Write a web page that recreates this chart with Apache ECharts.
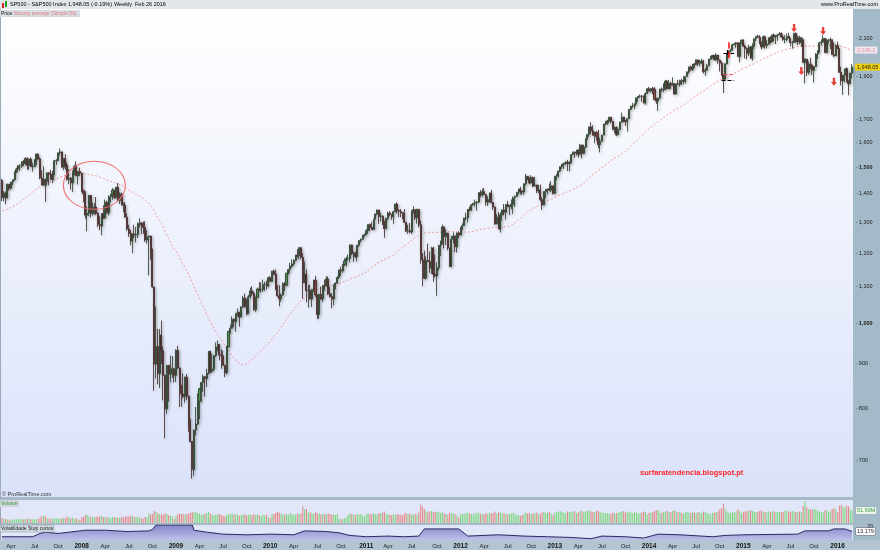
<!DOCTYPE html>
<html><head><meta charset="utf-8">
<script src="https://cdn.jsdelivr.net/npm/echarts@6/dist/echarts.min.js"></script>
<style>html,body{margin:0;padding:0;background:#fff}#c{width:880px;height:550px}</style>
</head><body><div id="c"></div><script>
// ---- DATA: weekly S&P 500 candles [open, high, low, close], week ending Fridays from 2007-03-02 ----
const firstWeek = '2007-03-02';
const w2007 = [[1451,1456,1374,1387],[1387,1410,1374,1403],[1403,1409,1363,1387],[1387,1438,1383,1436],[1436,1437,1411,1421],
[1421,1445,1416,1444],[1444,1453,1432,1453],[1453,1484,1449,1484],[1484,1499,1477,1494],[1494,1510,1482,1506],
[1506,1513,1487,1506],[1506,1523,1498,1523],[1523,1530,1505,1516],[1516,1540,1510,1536],[1536,1540,1490,1508],
[1508,1534,1492,1533],[1533,1540,1502,1503],[1503,1518,1484,1503],[1503,1532,1503,1530],[1530,1555,1510,1553],
[1553,1556,1528,1534],[1534,1540,1455,1459],[1459,1489,1433,1433],[1433,1504,1430,1454],[1454,1456,1371,1446],
[1446,1480,1430,1479],[1479,1481,1432,1474],[1474,1490,1452,1454],[1454,1486,1440,1484],[1484,1530,1470,1526],
[1526,1533,1510,1527],[1527,1560,1525,1558],[1558,1576,1547,1562],[1562,1563,1500,1501],[1501,1536,1490,1535],
[1535,1552,1492,1510],[1510,1520,1450,1454],[1454,1493,1436,1459],[1459,1462,1416,1441],[1441,1489,1407,1481],
[1481,1510,1470,1505],[1505,1524,1467,1468],[1468,1486,1435,1484],[1484,1499,1468,1478]];
const w2008 = [[1478,1478,1406,1412],[1412,1416,1370,1401],[1401,1410,1313,1325],[1325,1355,1270,1331],
[1331,1396,1322,1395],[1395,1396,1317,1331],[1331,1368,1324,1350],[1350,1367,1327,1353],[1353,1389,1326,1331],
[1331,1335,1284,1293],[1293,1321,1274,1288],[1288,1331,1257,1330],[1330,1359,1312,1315],
[1315,1380,1313,1370],[1370,1376,1330,1333],[1333,1395,1324,1390],[1390,1400,1370,1398],
[1398,1422,1379,1414],[1414,1416,1382,1388],[1388,1426,1382,1425],[1425,1440,1373,1376],[1376,1406,1364,1400],
[1400,1405,1359,1361],[1361,1369,1335,1360],[1360,1371,1317,1318],[1318,1331,1272,1278],
[1278,1292,1252,1263],[1263,1274,1225,1239],[1239,1263,1200,1261],[1261,1292,1248,1258],
[1258,1285,1234,1260],[1260,1300,1248,1296],[1296,1314,1283,1298],[1298,1300,1261,1292],[1292,1303,1262,1283],
[1283,1304,1236,1242],[1242,1274,1230,1252],[1252,1256,1133,1255],[1255,1255,1179,1213],
[1213,1214,1097,1099],[1099,1099,839,899],[899,1044,866,941],[941,985,853,877],[877,985,845,969],
[969,1007,899,931],[931,941,818,873],[873,875,741,800],[800,897,790,896],
[896,897,815,876],[876,919,857,880],[880,918,867,888],[888,889,857,873]];
const w2009 = [[873,934,858,932],[932,943,888,890],[890,891,804,850],[850,852,805,832],[832,877,822,826],
[826,870,813,869],[869,876,818,827],[827,828,754,770],[770,780,733,735],
[735,736,667,683],[683,758,672,757],[757,804,747,769],[769,833,767,816],
[816,845,779,843],[843,857,814,857],[857,875,836,870],[870,871,826,866],
[866,888,847,878],[878,930,875,929],[929,931,878,883],[883,924,879,887],[887,920,882,919],
[919,951,916,940],[940,956,930,946],[946,946,908,921],[921,934,888,919],
[919,931,895,896],[896,898,869,879],[879,943,875,940],[940,980,940,979],[979,996,973,987],
[987,1018,986,1010],[1010,1013,990,1004],[1004,1027,978,1026],[1026,1039,1018,1029],
[1029,1030,991,1016],[1016,1045,1016,1043],[1043,1074,1041,1068],[1068,1080,1041,1044],
[1044,1065,1020,1025],[1025,1076,1025,1071],[1071,1097,1066,1088],[1088,1101,1074,1080],[1080,1086,1033,1036],
[1036,1072,1030,1069],[1069,1097,1069,1093],[1093,1113,1086,1091],[1091,1112,1084,1091],
[1091,1120,1085,1106],[1106,1114,1088,1106],[1106,1117,1092,1102],[1102,1128,1099,1126],[1126,1130,1115,1115]];
const w2010 = [[1115,1146,1115,1145],[1145,1150,1133,1136],[1136,1150,1091,1092],[1092,1104,1071,1074],
[1074,1104,1045,1066],[1066,1081,1057,1076],[1076,1112,1075,1109],[1109,1113,1088,1104],
[1104,1139,1102,1139],[1139,1151,1134,1150],[1150,1170,1140,1160],[1160,1181,1155,1167],
[1167,1181,1161,1178],[1178,1195,1175,1194],[1194,1213,1187,1192],[1192,1218,1181,1217],[1217,1220,1181,1187],
[1187,1200,1066,1111],[1111,1174,1111,1136],[1136,1150,1056,1088],[1088,1104,1041,1089],
[1089,1106,1064,1065],[1065,1093,1043,1092],[1092,1120,1086,1118],[1118,1131,1071,1077],
[1077,1077,1011,1023],[1023,1079,1011,1078],[1078,1100,1063,1065],[1065,1104,1057,1103],[1103,1120,1088,1102],
[1102,1130,1101,1122],[1122,1129,1076,1079],[1079,1100,1069,1072],[1072,1082,1040,1065],
[1065,1105,1047,1105],[1105,1112,1092,1110],[1110,1131,1108,1126],[1126,1149,1122,1149],
[1149,1158,1131,1146],[1146,1167,1140,1165],[1165,1184,1160,1176],[1176,1189,1159,1183],[1183,1196,1177,1183],
[1183,1227,1171,1226],[1226,1227,1194,1199],[1199,1205,1173,1200],[1200,1205,1185,1189],
[1189,1226,1174,1225],[1225,1241,1220,1240],[1240,1247,1234,1244],[1244,1259,1243,1257],[1257,1263,1252,1258]];
const w2011 = [[1258,1278,1258,1272],[1272,1293,1262,1293],[1293,1296,1271,1283],[1283,1302,1275,1276],
[1276,1311,1276,1311],[1311,1330,1311,1329],[1329,1344,1324,1343],[1343,1343,1295,1320],
[1320,1333,1303,1321],[1321,1325,1291,1304],[1304,1305,1249,1279],[1279,1315,1279,1314],
[1314,1337,1307,1332],[1332,1339,1322,1328],[1328,1329,1309,1320],[1320,1339,1295,1337],[1337,1364,1335,1364],
[1364,1370,1330,1340],[1340,1346,1318,1338],[1338,1346,1318,1333],[1333,1335,1311,1331],
[1331,1346,1300,1300],[1300,1302,1268,1271],[1271,1292,1262,1272],[1272,1298,1265,1268],
[1268,1341,1262,1340],[1340,1356,1330,1344],[1344,1344,1308,1316],[1316,1347,1296,1345],[1345,1346,1283,1292],
[1292,1307,1168,1199],[1199,1199,1101,1179],[1179,1208,1122,1124],[1124,1190,1121,1177],
[1177,1230,1172,1174],[1174,1205,1140,1154],[1154,1220,1137,1216],[1216,1220,1114,1136],[1136,1195,1127,1131],
[1131,1171,1074,1155],[1155,1225,1147,1225],[1225,1239,1191,1238],[1238,1293,1228,1285],
[1285,1285,1215,1253],[1253,1277,1226,1264],[1264,1266,1209,1216],[1216,1216,1158,1159],
[1159,1255,1159,1244],[1244,1267,1231,1255],[1255,1256,1203,1220],[1220,1265,1202,1265],[1265,1270,1248,1258]];
const w2012 = [[1258,1285,1258,1278],[1278,1297,1275,1289],[1289,1316,1289,1315],[1315,1333,1307,1316],
[1316,1346,1300,1345],[1345,1355,1337,1343],[1343,1363,1340,1361],[1361,1368,1357,1366],
[1366,1379,1355,1370],[1370,1374,1340,1371],[1371,1406,1367,1404],[1404,1414,1388,1397],[1397,1419,1391,1408],
[1408,1422,1395,1398],[1398,1398,1358,1370],[1370,1391,1357,1379],[1379,1406,1370,1403],
[1403,1415,1367,1369],[1369,1371,1343,1353],[1353,1354,1292,1295],[1295,1328,1295,1318],
[1318,1335,1277,1278],[1278,1335,1266,1326],[1326,1344,1306,1343],[1343,1364,1324,1335],[1335,1363,1309,1362],
[1362,1375,1353,1355],[1355,1358,1325,1357],[1357,1380,1345,1363],[1363,1391,1329,1386],
[1386,1395,1354,1391],[1391,1406,1391,1406],[1406,1419,1398,1418],[1418,1426,1398,1411],[1411,1413,1397,1407],
[1407,1438,1397,1438],[1438,1475,1430,1466],[1466,1467,1451,1460],[1460,1460,1436,1441],
[1441,1470,1438,1461],[1461,1465,1425,1429],[1429,1464,1429,1433],[1433,1434,1403,1412],
[1412,1434,1404,1414],[1414,1434,1373,1380],[1380,1388,1343,1360],[1360,1409,1360,1409],[1409,1419,1385,1416],
[1416,1420,1398,1418],[1418,1439,1411,1414],[1414,1448,1407,1430],[1430,1430,1398,1402]];
const w2013 = [[1402,1467,1402,1466],[1466,1473,1451,1472],[1472,1486,1461,1486],[1486,1503,1482,1503],
[1503,1514,1494,1513],[1513,1518,1495,1518],[1518,1525,1509,1520],[1520,1530,1486,1516],
[1516,1525,1485,1518],[1518,1552,1514,1551],[1551,1564,1548,1561],[1561,1563,1538,1557],[1557,1570,1547,1569],
[1569,1573,1539,1553],[1553,1594,1551,1589],[1589,1593,1536,1555],[1555,1592,1555,1582],
[1582,1618,1577,1614],[1614,1635,1614,1634],[1634,1668,1624,1667],[1667,1687,1636,1650],[1650,1674,1630,1631],
[1631,1646,1598,1643],[1643,1649,1608,1627],[1627,1654,1577,1592],[1592,1620,1560,1606],
[1606,1632,1605,1632],[1632,1680,1632,1680],[1680,1693,1675,1692],[1692,1698,1676,1692],
[1692,1710,1682,1710],[1710,1710,1684,1691],[1691,1693,1656,1656],[1656,1669,1640,1664],[1664,1670,1628,1633],
[1633,1666,1633,1655],[1655,1690,1655,1688],[1688,1730,1686,1710],[1710,1711,1687,1692],
[1692,1696,1671,1691],[1691,1704,1647,1703],[1703,1745,1703,1745],[1745,1760,1740,1760],
[1760,1775,1752,1762],[1762,1771,1746,1771],[1771,1799,1768,1798],[1798,1805,1780,1805],[1805,1814,1798,1806],
[1806,1811,1779,1805],[1805,1809,1772,1775],[1775,1823,1767,1818],[1818,1844,1818,1841]];
const w2014 = [[1841,1850,1827,1831],[1831,1843,1823,1842],[1842,1850,1815,1839],[1839,1850,1790,1790],[1790,1798,1770,1783],
[1783,1798,1738,1797],[1797,1841,1792,1839],[1839,1847,1825,1836],[1836,1867,1825,1859],
[1859,1883,1834,1878],[1878,1883,1839,1841],[1841,1884,1839,1867],[1867,1875,1839,1858],
[1858,1897,1858,1865],[1865,1868,1814,1816],[1816,1865,1816,1865],[1865,1884,1859,1863],
[1863,1885,1851,1881],[1881,1889,1859,1878],[1878,1902,1862,1878],[1878,1901,1868,1901],[1901,1924,1901,1924],
[1924,1950,1914,1949],[1949,1956,1929,1936],[1936,1964,1929,1963],[1963,1968,1945,1961],
[1961,1986,1958,1985],[1985,1985,1953,1968],[1968,1984,1952,1978],[1978,1991,1965,1978],
[1978,1985,1916,1925],[1925,1943,1904,1932],[1932,1964,1929,1955],[1955,1992,1952,1988],[1988,2005,1985,2003],
[2003,2011,1992,2008],[2008,2009,1983,1986],[1986,2019,1979,2010],[2010,2010,1965,1983],
[1983,1986,1926,1968],[1968,1977,1906,1906],[1906,1912,1821,1887],[1887,1966,1886,1965],[1965,2018,1961,2018],
[2018,2034,2001,2032],[2032,2042,2024,2040],[2040,2071,2034,2064],[2064,2075,2062,2068],
[2068,2079,2049,2075],[2075,2077,2002,2002],[2002,2077,1972,2071],[2071,2094,2070,2089]];
const w2015 = [[2089,2094,2052,2058],[2058,2064,1992,2045],[2045,2050,1988,2019],[2019,2065,2005,2052],[2052,2058,1989,1995],
[1995,2072,1981,2055],[2055,2097,2041,2097],[2097,2111,2085,2110],[2110,2120,2103,2105],
[2105,2117,2067,2071],[2071,2083,2040,2053],[2053,2114,2050,2108],[2108,2115,2045,2061],
[2061,2089,2045,2067],[2067,2103,2066,2102],[2102,2111,2073,2081],[2081,2120,2080,2118],
[2118,2126,2083,2108],[2108,2117,2068,2116],[2116,2123,2086,2123],[2123,2134,2117,2126],[2126,2132,2104,2107],
[2107,2121,2086,2093],[2093,2116,2072,2094],[2094,2127,2083,2110],[2110,2130,2101,2101],
[2101,2101,2056,2077],[2077,2085,2044,2077],[2077,2129,2077,2127],[2127,2132,2077,2080],[2080,2115,2063,2104],
[2104,2112,2068,2078],[2078,2105,2053,2092],[2092,2103,1971,1971],[1971,1993,1867,1989],
[1989,1989,1903,1921],[1921,1976,1910,1961],[1961,1996,1938,1958],[1958,1966,1908,1931],
[1931,1952,1872,1951],[1951,2020,1950,2015],[2015,2034,1990,2033],[2033,2080,2022,2075],[2075,2094,2062,2079],
[2079,2116,2075,2099],[2099,2100,2022,2023],[2023,2097,2019,2089],[2089,2094,2070,2090],
[2090,2104,2042,2092],[2092,2093,2012,2012],[2012,2077,2000,2006],[2006,2067,2006,2061],[2061,2082,2043,2044]];
const w2016 = [[2044,2044,1918,1922],[1922,1950,1857,1880],[1880,1909,1812,1907],[1907,1940,1872,1940],
[1940,1947,1872,1880],[1880,1881,1810,1865],[1865,1918,1865,1918],[1918,1963,1891,1948.05]];
// 49 weekly closes before the first candle (needed for the 50-week simple average)
const preCloses = [1302,1295,1295,1289,1311,1311,1325,1291,1267,1280,1288,1253,1252,1244,1270,1265,1236,1240,1278,1280,
1266,1302,1295,1311,1299,1320,1314,1336,1349,1362,1368,1377,1364,1380,1401,1400,1397,1409,1427,1410,
1418,1410,1431,1431,1422,1449,1438,1456,1451];
const maPeriod = 50;
// weekly volume (M)
const v2007 = [22,18,17,15,14,14,15,16,16,17,15,16,15,17,18,17,16,16,15,17,16,24,28,30,28,20,18,19,18,20,19,18,18,22,20,21,26,24,20,22,18,20,15,12];
const v2008 = [24,26,32,34,28,26,25,24,26,27,28,30,24,25,24,23,22,24,25,24,22,23,25,24,27,28,27,30,29,25,27,24,23,20,18,25,24,40,36,38,50,46,42,38,36,34,40,38,32,30,28,18];
const v2009 = [28,36,40,38,38,36,38,40,42,46,44,48,42,40,34,36,40,42,46,40,34,32,36,36,38,34,30,28,34,36,38,40,36,38,34,30,32,34,36,32,34,36,32,38,34,36,32,28,34,32,36,24,22];
const v2010 = [36,38,42,46,44,40,36,34,38,36,42,38,34,36,40,38,40,70,56,58,44,46,40,38,46,40,42,36,38,38,36,40,38,34,36,34,38,18,16,17,20,24,36,40,38,36,34,38,36,38,32,26];
const v2011 = [38,40,38,36,40,38,36,42,40,44,48,38,36,34,32,36,34,38,36,34,32,40,42,38,40,36,34,38,36,44,76,68,58,50,44,48,50,46,48,46,44,42,46,40,38,36,44,40,42,38,30,22];
const v2012 = [36,38,40,42,44,40,38,36,42,40,44,38,40,36,42,38,44,40,42,48,40,46,44,40,42,38,36,38,40,42,36,34,32,30,32,38,44,40,42,38,40,42,44,36,40,44,46,42,44,46,40,34];
const v2013 = [44,46,48,50,46,44,42,48,46,44,50,48,42,46,52,50,46,48,50,52,48,46,44,50,52,46,44,42,40,42,40,38,44,40,42,44,46,48,50,44,46,48,44,42,46,44,40,42,44,48,46,36];
const v2014 = [42,44,46,50,52,54,44,42,46,48,50,44,46,50,52,48,44,46,42,40,44,46,44,42,46,44,42,44,46,40,48,46,42,40,38,42,44,46,48,56,62,80,60,48,44,42,46,44,48,56,50,40];
const v2015 = [46,48,50,52,54,50,48,44,46,50,52,48,46,44,48,46,50,48,46,44,46,48,46,50,52,48,46,50,48,46,44,48,46,70,92,66,56,58,54,60,56,50,48,46,44,52,54,46,50,58,62,56,44];
const v2016 = [72,76,70,64,72,70,58,51.69];
// "Volatilidade Stop curtos" readings
const volDates = ['2007-03-02','2007-06-29','2007-07-27','2007-08-17','2007-10-05','2007-11-16','2008-01-18','2008-04-04','2008-06-27','2008-09-19','2008-10-03','2008-10-17','2009-03-06','2009-03-13','2009-05-01','2009-07-03','2009-10-02','2010-01-08','2010-04-02','2010-05-14','2010-08-06','2010-09-24','2010-11-05','2011-01-07','2011-04-01','2011-06-03','2011-07-29','2011-08-19','2011-12-30','2012-02-03','2012-06-01','2012-09-07','2012-12-07','2013-03-01','2013-05-24','2013-07-05','2013-10-04','2013-12-13','2014-02-07','2014-05-02','2014-09-05','2014-10-24','2015-01-09','2015-07-31','2015-08-28','2015-11-27','2015-12-18','2016-01-29','2016-02-26'];
const volValues = [5,5,10,12,10,12,15,15,13,14,16,23,23,15,12,9,8,9,8,14,13,11,7,5,6,5,6,17,17,6,8,6,5,4,2,6,5,3,9,8,5,7,8,9,14,14,17,17,13.179];
// y-axis tick labels
const priceTicks = [700,800,900,1000,1100,1200,1300,1400,1500,1600,1700,1900,2100];
const boldTicks = [1000,1500];
// annotations (date, price)
const ellipseAt = ['2008-02-22', 1432];
const arrowDates = ['2015-07-17','2015-08-14','2015-11-06','2015-12-18'];
const arrowPrices = [2156,1928,2140,1875];

// ---- build ----
const rows = [].concat(w2007,w2008,w2009,w2010,w2011,w2012,w2013,w2014,w2015,w2016);
const vols = [].concat(v2007,v2008,v2009,v2010,v2011,v2012,v2013,v2014,v2015,v2016);
const DAY = 86400000;
const t0 = Date.parse(firstWeek + 'T00:00:00Z');
const cats = rows.map((r,i)=> new Date(t0 + i*7*DAY).toISOString().slice(0,10));
const idxOf = d => Math.round((Date.parse(d+'T00:00:00Z') - t0)/(7*DAY));
const candleData = rows.map(r => [r[0], r[3], r[2], r[1]]);
const allCloses = preCloses.concat(rows.map(r=>r[3]));
const ma = rows.map((r,i)=>{ let s=0; for(let k=i;k<i+maPeriod;k++) s+=allCloses[k]; return +(s/maPeriod).toFixed(2); });
const volBars = vols.map((v,i)=>({value:v, itemStyle:{color: rows[i][3]>=rows[i][0] ? '#7fd67f' : '#e38a8a'}}));
const volLine = volDates.map((d,i)=>[idxOf(d), volValues[i]]);
const fmt = (v,d)=>{ const s=v.toFixed(d); const p=s.split('.'); p[0]=p[0].replace(/\B(?=(\d{3})+(?!\d))/g, ','); return p.join('.'); };
const MONTHS = ['Jan','Feb','Mar','Apr','May','Jun','Jul','Aug','Sep','Oct','Nov','Dec'];
const mon = i => +cats[i].slice(5,7);
const showLabel = i => { const m = mon(i); return (m===1||m===4||m===7||m===10) && (i===0 || mon(i-1)!==m); };
const lastClose = rows[rows.length-1][3];
const lastMA = ma[ma.length-1];
const lastVol = vols[vols.length-1];
const lastVolat = volValues[volValues.length-1];
const FONT = '"Liberation Sans", Arial, sans-serif';

const hiddenX = g => ({type:'category', gridIndex:g, data:cats, boundaryGap:true, axisLine:{show:false}, axisTick:{show:false}, axisLabel:{show:false}, splitLine:{show:false}});

const chart = echarts.init(document.getElementById('c'), null, {renderer:'canvas'});
const option = {
  animation:false,
  backgroundColor:'#ffffff',
  textStyle:{fontFamily:FONT},
  grid:[
    {left:1, top:9, width:852, height:488},
    {left:1, top:500, width:852, height:23},
    {left:1, top:525, width:852, height:15}
  ],
  xAxis:[hiddenX(0), hiddenX(1), Object.assign(hiddenX(2), {
    axisLabel:{show:true, margin:3, fontSize:6, color:'#1a1a1a', fontFamily:FONT,
      interval:(i)=>showLabel(i),
      formatter:(v)=>{ const m=+v.slice(5,7); return m===1 ? '{y|'+v.slice(0,4)+'}' : MONTHS[m-1]; },
      rich:{y:{fontWeight:'bold', fontSize:6.5, color:'#111', fontFamily:FONT}}}
  })],
  yAxis:[
    {type:'log', logBase:10, gridIndex:0, min:636, max:2266, axisLine:{show:false}, axisTick:{show:false}, axisLabel:{show:false}, splitLine:{show:false}},
    {type:'value', gridIndex:1, min:0, max:96, show:false, splitLine:{show:false}},
    {type:'value', gridIndex:2, min:0, max:23, show:false, splitLine:{show:false}}
  ],
  series:[
    {type:'line', name:'MA50', xAxisIndex:0, yAxisIndex:0, data:ma, symbol:'none', z:1,
      lineStyle:{color:'#f29a9a', width:1, type:[2,2]},
      markLine:{silent:true, symbol:['none','none'], lineStyle:{color:'rgba(0,0,0,0)', width:0},
        data:[{yAxis:lastMA, label:{show:true, position:'end', distance:2, formatter:fmt(lastMA,1), fontSize:5.5, color:'#d98a9e', backgroundColor:'#f4e8ef', padding:[1,2,0,2], fontFamily:FONT}}]}
    },
    {type:'candlestick', name:'SP500', xAxisIndex:0, yAxisIndex:0, data:candleData, barWidth:'85%', z:3,
      itemStyle:{color:'#4b9f4b', color0:'#9a4646', borderColor:'#2a3a2a', borderColor0:'#3d2424', borderWidth:0.8,
        shadowColor:'rgba(80,80,80,0.45)', shadowBlur:3, shadowOffsetX:1, shadowOffsetY:1},
      markLine:{silent:true, symbol:['none','none'], lineStyle:{color:'rgba(0,0,0,0)', width:0},
        data: priceTicks.map(v=>({yAxis:v, label:{show:true, position:'end', distance:3, formatter:'{t|-}' + fmt(v,0),
            fontSize:5.5, color:'#222', fontWeight: boldTicks.includes(v)?'bold':'normal', fontFamily:FONT,
            rich:{t:{color:'#555', fontSize:5.5, padding:[0,1,0,0]}}}}))
          .concat([
            {yAxis:lastClose, label:{show:true, position:'end', distance:2, formatter:fmt(lastClose,2), fontSize:5.5, color:'#222', backgroundColor:'#f0cf10', padding:[1,2,0,2], fontFamily:FONT}},
            [{coord:[401,2078], lineStyle:{color:'#ff1a1a', width:1.6}}, {coord:[401,1985]}],
            [{coord:[398,2021], lineStyle:{color:'#000', width:1.2}}, {coord:[404,2021]}],
            [{coord:[400,2036], lineStyle:{color:'#000', width:1.2}}, {coord:[400,2006]}],
            [{coord:[398,1912], lineStyle:{color:'#ff4040', width:1}}, {coord:[403,1912]}],
            [{coord:[397,1883], lineStyle:{color:'#000', width:1}}, {coord:[404,1883]}]
          ])},
      markPoint:{silent:true, label:{show:false},
        data:[{coord:[idxOf(ellipseAt[0]), ellipseAt[1]], symbol:'circle', symbolSize:[62,48],
               itemStyle:{color:'rgba(0,0,0,0)', borderColor:'#f07070', borderWidth:1}}]
          .concat(arrowDates.map((d,i)=>({coord:[idxOf(d), arrowPrices[i]], symbol:'path://M3,0L7,0L7,6L10,6L5,11L0,6L3,6Z', symbolSize:[6,8], itemStyle:{color:'#e8403a'}})))}
    },
    {type:'bar', name:'Volume', xAxisIndex:1, yAxisIndex:1, data:volBars, barWidth:'60%',
      markLine:{silent:true, symbol:['none','none'], lineStyle:{color:'rgba(0,0,0,0)', width:0},
        data:[{yAxis:lastVol, label:{show:true, position:'end', distance:3, formatter:fmt(lastVol,2)+'M', fontSize:5.5, color:'#3a9a3a', backgroundColor:'#eef6ee', borderColor:'#9ab', borderWidth:0.5, padding:[1,1,0,1], fontFamily:FONT}}]}
    },
    {type:'line', name:'Volatilidade', xAxisIndex:2, yAxisIndex:2, data:volLine, symbol:'none',
      lineStyle:{color:'#2a2a60', width:1},
      areaStyle:{color:new echarts.graphic.LinearGradient(0,0,0,1,[{offset:0,color:'#5d5db3'},{offset:1,color:'#aeb0e2'}])},
      markLine:{silent:true, symbol:['none','none'], lineStyle:{color:'rgba(0,0,0,0)', width:0},
        data:[{yAxis:20, label:{show:true, position:'end', distance:14, formatter:'20', fontSize:5.5, color:'#222', fontFamily:FONT}},
              {yAxis:lastVolat, label:{show:true, position:'end', distance:3, formatter:fmt(lastVolat,3), fontSize:5.5, color:'#222', backgroundColor:'#ffffff', borderColor:'#667', borderWidth:0.5, padding:[1,1,0,1], fontFamily:FONT}}]}
    }
  ],
  graphic:[
    {type:'rect', z:-20, silent:true, shape:{x:0,y:9,width:853,height:488}, style:{fill:new echarts.graphic.LinearGradient(0,0,0,1,[{offset:0,color:'#ffffff'},{offset:1,color:'#dae2fa'}])}},
    {type:'rect', z:-20, silent:true, shape:{x:0,y:500,width:853,height:23}, style:{fill:'#e1e6f9'}},
    {type:'rect', z:-20, silent:true, shape:{x:0,y:525,width:853,height:15}, style:{fill:'#e1e6f9'}},
    {type:'rect', z:-19, silent:true, shape:{x:853,y:9,width:27,height:541}, style:{fill:'#a3bac8'}},
    {type:'rect', z:-19, silent:true, shape:{x:0,y:540,width:880,height:10}, style:{fill:'#b3c5d2'}},
    {type:'rect', z:-19, silent:true, shape:{x:0,y:497,width:880,height:3}, style:{fill:'#a7bac8'}},
    {type:'rect', z:-19, silent:true, shape:{x:0,y:523,width:880,height:2}, style:{fill:'#a7bac8'}},
    {type:'rect', z:-19, silent:true, shape:{x:0,y:0,width:880,height:9}, style:{fill:'#e2e7ec'}},
    {type:'rect', z:-18, silent:true, shape:{x:0,y:9,width:1,height:531}, style:{fill:'#9aaab6'}},
    // header icon
    {type:'rect', z:50, silent:true, shape:{x:2,y:3,width:2,height:5}, style:{fill:'#d02020'}},
    {type:'rect', z:50, silent:true, shape:{x:5,y:1,width:2,height:6}, style:{fill:'#20a020'}},
    {type:'text', z:50, silent:true, x:10, y:1.5, style:{text:'SP500 - S&P500 Index', font:'5.5px '+FONT, fill:'#000'}},
    {type:'text', z:50, silent:true, x:68, y:1.5, style:{text:'1,948.05 (-0.19%)', font:'5.5px '+FONT, fill:'#000'}},
    {type:'text', z:50, silent:true, x:114, y:1.5, style:{text:'Weekly  Feb 26 2016', font:'5.5px '+FONT, fill:'#000'}},
    {type:'text', z:50, silent:true, x:878, y:1.5, style:{text:'www.ProRealTime.com', font:'5.5px '+FONT, fill:'#000', align:'right'}},
    {type:'rect', z:49, silent:true, shape:{x:0,y:10,width:80,height:7}, style:{fill:'#d8dde4'}},
    {type:'text', z:50, silent:true, x:1, y:10.8, style:{text:'Price', font:'5px '+FONT, fill:'#222'}},
    {type:'text', z:50, silent:true, x:14, y:10.8, style:{text:'Moving average (Simple 50)', font:'5px '+FONT, fill:'#e58080'}},
    {type:'text', z:50, silent:true, x:2, y:491, style:{text:'© ProRealTime.com', font:'5.5px '+FONT, fill:'#333'}},
    {type:'rect', z:49, silent:true, shape:{x:0,y:500,width:19,height:7}, style:{fill:'#cfd6de'}},
    {type:'text', z:50, silent:true, x:1, y:500.8, style:{text:'Volume', font:'5px '+FONT, fill:'#3a9a3a'}},
    {type:'rect', z:49, silent:true, shape:{x:0,y:525,width:54,height:7}, style:{fill:'#d4dae2', stroke:'#8a98a8', lineWidth:0.5}},
    {type:'text', z:50, silent:true, x:1, y:525.8, style:{text:'Volatilidade Stop curtos', font:'5px '+FONT, fill:'#222'}},
    {type:'text', z:50, silent:true, x:640, y:469, style:{text:'surfaratendencia.blogspot.pt', font:'bold 7.5px '+FONT, fill:'#ff2424'}}
  ]
};
chart.setOption(option);
</script></body></html>
